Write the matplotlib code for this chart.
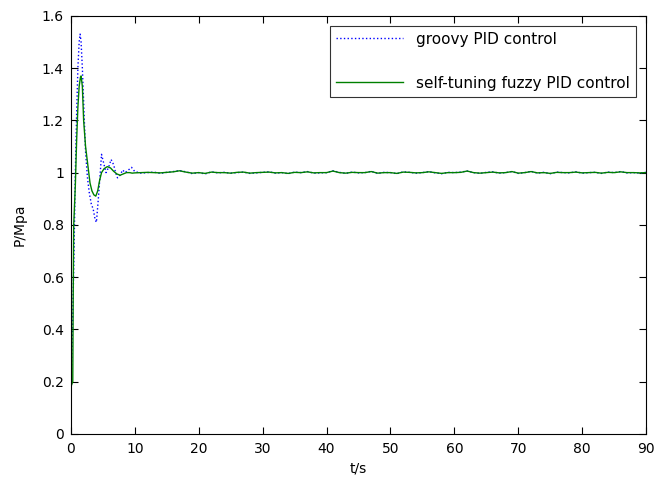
import matplotlib.pyplot as plt
import numpy as np

plt.rcParams['font.family'] = ['DejaVu Sans']

# transient part
t_groovy_tr = [0, 0.15, 0.3, 0.5, 0.7, 0.9, 1.1, 1.3, 1.45, 1.6, 1.8, 2.0, 2.3, 2.6, 2.9, 3.2, 3.5,
               3.8, 4.0, 4.3, 4.6, 4.8, 5.1, 5.5, 5.9, 6.3, 6.7, 7.0, 7.3, 7.7, 8.1, 8.5, 9.0, 9.5]
groovy_tr = [0.15, 0.3, 0.45, 0.7, 1.0, 1.22, 1.4, 1.5, 1.53, 1.5, 1.4, 1.27, 1.08, 0.98, 0.92, 0.88, 0.86,
             0.82, 0.81, 0.9, 1.0, 1.07, 1.04, 1.0, 1.02, 1.05, 1.03, 1.0, 0.98, 0.99, 1.01, 1.0, 1.01, 1.02]

t_fuzzy_tr = [0, 0.3, 0.36, 0.45, 0.7, 0.9, 1.1, 1.3, 1.5, 1.6, 1.8, 2.0, 2.3, 2.7, 3.0, 3.3, 3.6,
              3.9, 4.2, 4.5, 4.8, 5.2, 5.7, 6.2, 6.7, 7.2, 7.7, 8.2, 8.7, 9.2, 9.6]
fuzzy_tr = [0.18, 0.2, 0.5, 0.8, 0.95, 1.12, 1.25, 1.33, 1.365, 1.37, 1.33, 1.2, 1.1, 1.02, 0.96, 0.93, 0.915,
            0.91, 0.93, 0.97, 1.0, 1.015, 1.023, 1.018, 1.005, 0.995, 0.99, 0.995, 1.0, 1.0, 0.998]

# steady state, 10..90 s in 1 s steps
t_steady = list(range(10, 91))
groovy_ss = [1.004, 0.998, 1.0, 1.002, 0.997, 1.001, 1.004, 1.008, 1.003, 0.996, 1.0,
             0.995, 1.003, 0.999, 1.001, 0.998, 1.0, 1.002, 0.997, 0.999, 1.001,
             1.003, 0.998, 1.0, 0.996, 1.002, 1.0, 1.004, 0.998, 0.999, 1.0,
             1.007, 1.001, 0.997, 1.002, 0.999, 1.0, 1.005, 0.997, 1.001, 1.0,
             0.996, 1.003, 1.001, 0.998, 1.0, 1.004, 0.999, 0.996, 1.001, 1.0,
             1.002, 1.006, 1.0, 0.997, 1.001, 1.003, 0.998, 1.0, 1.004, 0.997,
             1.0, 1.005, 0.998, 1.001, 0.996, 1.002, 1.0, 0.999, 1.003, 0.998,
             1.0, 1.001, 0.997, 1.002, 1.0, 1.004, 0.999, 1.0, 0.998, 1.001]
fuzzy_ss = [0.999, 1.0, 1.001, 1.0, 0.999, 1.001, 1.003, 1.007, 1.002, 0.998, 1.0,
            0.997, 1.002, 1.0, 1.0, 0.998, 1.001, 1.002, 0.998, 1.0, 1.001,
            1.002, 0.999, 1.0, 0.997, 1.001, 1.0, 1.003, 0.999, 1.0, 1.0,
            1.006, 1.0, 0.998, 1.001, 1.0, 1.0, 1.004, 0.998, 1.0, 1.0,
            0.997, 1.002, 1.001, 0.999, 1.0, 1.003, 1.0, 0.997, 1.0, 1.0,
            1.001, 1.006, 1.0, 0.998, 1.0, 1.002, 0.999, 1.0, 1.004, 0.998,
            1.0, 1.004, 0.999, 1.0, 0.997, 1.001, 1.0, 1.0, 1.002, 0.999,
            1.0, 1.001, 0.998, 1.001, 1.0, 1.003, 1.0, 1.0, 0.999, 1.0]

t_groovy = t_groovy_tr + t_steady
groovy = groovy_tr + groovy_ss
t_fuzzy = t_fuzzy_tr + t_steady
fuzzy = fuzzy_tr + fuzzy_ss

fig = plt.figure(figsize=(6.56, 4.79), dpi=100)
ax = fig.add_axes([0.108, 0.094, 0.877, 0.873])

ax.plot(t_groovy, groovy, ':', color='#0000ff', lw=1.0, label='groovy PID control')
ax.plot(t_fuzzy, fuzzy, '-', color='#008000', lw=1.0, label='self-tuning fuzzy PID control')

ax.set_xlim(0, 90)
ax.set_ylim(0, 1.6)
ax.set_xticks(np.arange(0, 91, 10))
ax.set_yticks(np.arange(0, 1.61, 0.2))
ax.set_yticklabels(['0', '0.2', '0.4', '0.6', '0.8', '1', '1.2', '1.4', '1.6'])
ax.tick_params(direction='in', top=True, right=True, length=5, labelsize=10, width=0.8)
ax.tick_params(axis='x', pad=6)
ax.tick_params(axis='y', pad=5)
for s in ax.spines.values():
    s.set_linewidth(0.8)

ax.set_xlabel('t/s', fontsize=10, labelpad=4)
ax.set_ylabel('P/Mpa', fontsize=10, labelpad=11)

leg = ax.legend(loc='upper right', fontsize=11, fancybox=False, edgecolor='black',
                handlelength=4.4, labelspacing=1.9, borderpad=0.4, handletextpad=0.8,
                bbox_to_anchor=(0.995, 0.995))
leg.get_frame().set_linewidth(0.8)

fig.savefig('out.png', dpi=100)
